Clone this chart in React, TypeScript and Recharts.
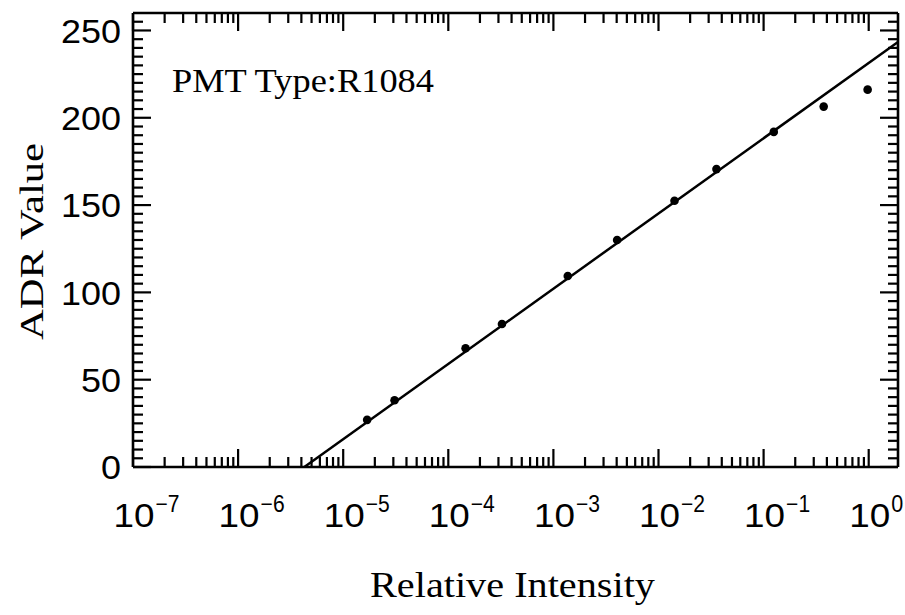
import React from 'react';
import { ComposedChart, Line, Scatter, XAxis, YAxis } from 'recharts';

// measured points (relative intensity, ADR value)
const intensity = [
  1.69e-5, 3.08e-5, 1.46e-4, 3.24e-4, 1.37e-3, 4.04e-3, 1.42e-2, 3.56e-2, 0.125, 0.373, 0.977,
];
const adrValue = [27.0, 38.2, 68.0, 81.9, 109.4, 130.0, 152.5, 170.6, 191.9, 206.4, 216.1];

// fitted straight line, end points
const fitX = [4.27e-6, 1.9];
const fitY = [0, 243.4];

// axis ticks
const decades = [-7, -6, -5, -4, -3, -2, -1, 0];
const minorSteps = [1, 2, 3, 4, 5, 6, 7, 8, 9];
const yTicks = Array.from({ length: 52 }, (_, i) => i * 5);

const X_MAX = 1.9;
const Y_MAX = 260;

const W = 905;
const H = 615;
const MARGIN = { top: 12, right: 6, bottom: 0, left: 0 };
const RIGHT_AXIS_W = 1;
const PLOT_RIGHT = W - MARGIN.right - RIGHT_AXIS_W;

const points = intensity.map((x, i) => ({ x, y: adrValue[i] }));
const fitLine = fitX.map((x, i) => ({ x, y: fitY[i] }));
const xTicks = decades
  .flatMap((d) => minorSteps.map((m) => m * Math.pow(10, d)))
  .filter((v) => v <= X_MAX);

const SANS = '"Liberation Sans", Arial, sans-serif';
const SERIF = '"Liberation Serif", "Times New Roman", serif';
const TICK_W = 2.2;

const isDecade = (v: number) => {
  const lg = Math.log10(v);
  return Math.abs(lg - Math.round(lg)) < 1e-6;
};

const BottomTick = ({ x, y, payload }: any) => {
  const major = isDecade(payload.value);
  const exp = Math.round(Math.log10(payload.value));
  const sup = exp === 0 ? '0' : '\u2212' + Math.abs(exp);
  return (
    <g>
      <line x1={x} x2={x} y1={y} y2={y - (major ? 18 : 10)} stroke="#000" strokeWidth={TICK_W} />
      {major && (
        <g fontFamily={SANS} fill="#000">
          <text
            x={x + 1}
            y={y + 59.5}
            textAnchor="middle"
            fontSize={33}
            textLength={41}
            lengthAdjust="spacingAndGlyphs"
          >
            10
          </text>
          <text
            x={x + 22.5}
            y={y + 45}
            fontSize={23}
            textLength={exp === 0 ? 12 : 24}
            lengthAdjust="spacingAndGlyphs"
          >
            {sup}
          </text>
        </g>
      )}
    </g>
  );
};

const TopTick = ({ x, y, payload }: any) => {
  const major = isDecade(payload.value);
  return (
    <g>
      <line x1={x} x2={x} y1={y} y2={y + (major ? 18 : 10)} stroke="#000" strokeWidth={TICK_W} />
    </g>
  );
};

// left ticks with labels, plus the matching inward ticks on the right frame
const LeftTick = ({ x, y, payload }: any) => {
  const major = payload.value % 50 === 0;
  const len = major ? 18 : 10;
  const label = String(payload.value);
  return (
    <g>
      <line x1={x} x2={x + len} y1={y} y2={y} stroke="#000" strokeWidth={TICK_W} />
      <line x1={PLOT_RIGHT} x2={PLOT_RIGHT - len} y1={y} y2={y} stroke="#000" strokeWidth={TICK_W} />
      {major && (
        <text
          x={x - 12}
          y={y}
          dy="0.36em"
          textAnchor="end"
          fontSize={34}
          fontFamily={SANS}
          fill="#000"
          textLength={label.length * 20}
          lengthAdjust="spacingAndGlyphs"
        >
          {label}
        </text>
      )}
    </g>
  );
};

const Dot = ({ cx, cy }: any) => <circle cx={cx} cy={cy} r={4.3} fill="#000" />;

const axisLine = { stroke: '#000', strokeWidth: 2.6 };

export default function App() {
  return (
    <div style={{ position: 'absolute', left: 0, top: 0, width: W, height: H, background: '#fff' }}>
      <ComposedChart width={W} height={H} margin={MARGIN}>
        <XAxis
          xAxisId="b"
          dataKey="x"
          type="number"
          scale="log"
          domain={[1e-7, X_MAX]}
          allowDataOverflow
          ticks={xTicks}
          interval={0}
          height={148}
          tickSize={0}
          tickMargin={0}
          tickLine={false}
          axisLine={axisLine}
          tick={(p: any) => <BottomTick {...p} />}
        />
        <XAxis
          xAxisId="t"
          orientation="top"
          dataKey="x"
          type="number"
          scale="log"
          domain={[1e-7, X_MAX]}
          allowDataOverflow
          ticks={xTicks}
          interval={0}
          height={1}
          tickSize={0}
          tickMargin={0}
          tickLine={false}
          axisLine={axisLine}
          tick={(p: any) => <TopTick {...p} />}
        />
        <YAxis
          yAxisId="l"
          type="number"
          domain={[0, Y_MAX]}
          ticks={yTicks}
          interval={0}
          width={133}
          tickSize={0}
          tickMargin={0}
          tickLine={false}
          axisLine={axisLine}
          tick={(p: any) => <LeftTick {...p} />}
        />
        <YAxis
          yAxisId="r"
          orientation="right"
          type="number"
          domain={[0, Y_MAX]}
          width={RIGHT_AXIS_W}
          tick={false}
          tickLine={false}
          axisLine={axisLine}
        />
        <Line
          xAxisId="b"
          yAxisId="l"
          data={fitLine}
          dataKey="y"
          type="linear"
          stroke="#000"
          strokeWidth={2.5}
          dot={false}
          activeDot={false}
          isAnimationActive={false}
        />
        <Scatter
          xAxisId="b"
          yAxisId="l"
          data={points}
          dataKey="y"
          shape={(p: any) => <Dot {...p} />}
          isAnimationActive={false}
        />
      </ComposedChart>
      <svg
        width={W}
        height={H}
        style={{ position: 'absolute', left: 0, top: 0, pointerEvents: 'none' }}
      >
        <text
          x={172}
          y={91.5}
          fontSize={34}
          fontFamily={SERIF}
          textLength={262}
          lengthAdjust="spacingAndGlyphs"
          fill="#000"
        >
          PMT Type:R1084
        </text>
        <text
          x={512.5}
          y={596.5}
          fontSize={35}
          fontFamily={SERIF}
          textAnchor="middle"
          textLength={285}
          lengthAdjust="spacingAndGlyphs"
          fill="#000"
        >
          Relative Intensity
        </text>
        <text
          transform="translate(42.5,241.5) rotate(-90)"
          fontSize={34}
          fontFamily={SERIF}
          textAnchor="middle"
          textLength={197}
          lengthAdjust="spacingAndGlyphs"
          fill="#000"
        >
          ADR Value
        </text>
      </svg>
    </div>
  );
}
